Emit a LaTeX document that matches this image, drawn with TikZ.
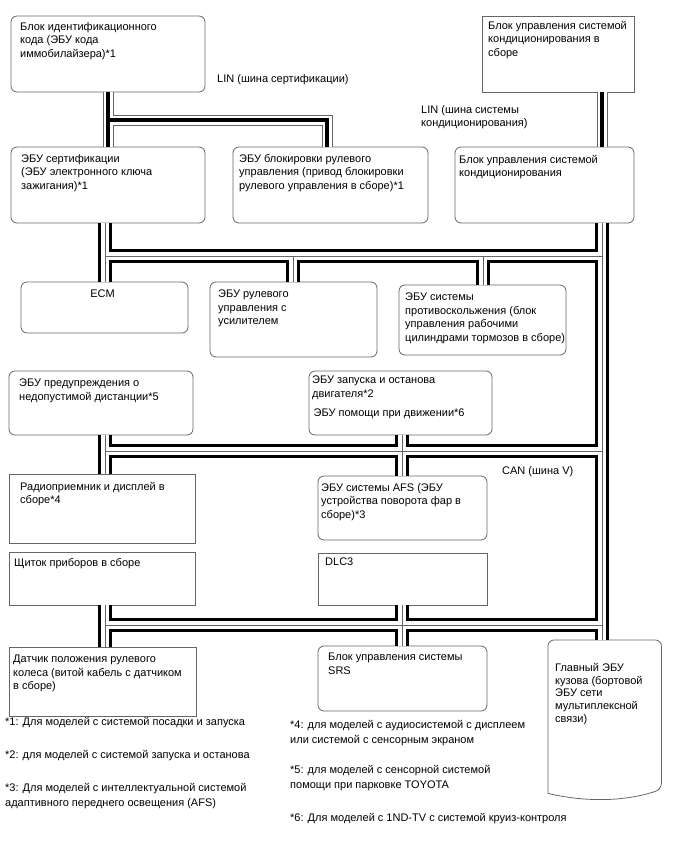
\documentclass[tikz,border=0pt]{standalone}
\usepackage{fontspec}
\setmainfont{Liberation Sans}
\tikzset{
  ecu/.style={draw=black!60, line width=0.8, fill=white, rounded corners=6, anchor=north west, inner sep=0, outer sep=0},
  ecusq/.style={ecu, sharp corners},
  txt/.style={anchor=north west, align=left, inner sep=0},
  canout/.style={line width=14, draw=black},
  canin/.style={line width=8, draw=white},
  cancore/.style={line width=0.8, draw=black!60},
  linout/.style={line width=11, draw=black!60},
  linin/.style={line width=9, draw=white},
  lincore/.style={line width=4, draw=black},
}
\begin{document}
\begin{tikzpicture}[x=1pt, y=-1pt, every node/.style={font=\fontsize{11}{13.5}\selectfont}]
    \useasboundingbox (0,0) rectangle (688,852);

    % Boxes
    \node[ecu, minimum width=194, minimum height=76] (immob) at (11,16) {};
    \node[ecusq, minimum width=152, minimum height=76] (acassy) at (482,16) {};
    \node[ecu, minimum width=194, minimum height=76] (cert) at (11,147) {};
    \node[ecu, minimum width=195, minimum height=76] (steerlock) at (233,147) {};
    \node[ecu, minimum width=179, minimum height=76] (acctrl) at (455,147) {};
    \node[ecu, minimum width=167, minimum height=51] (ecm) at (21,282) {};
    \node[ecu, minimum width=167, minimum height=75] (eps) at (210,282) {};
    \node[ecu, minimum width=167, minimum height=70] (skid) at (399,285) {};
    \node[ecu, minimum width=184, minimum height=64] (distwarn) at (9,371) {};
    \node[ecu, minimum width=183, minimum height=64] (engine) at (309,371) {};
    \node[ecusq, minimum width=186, minimum height=69] (radio) at (9,474) {};
    \node[ecu, minimum width=169, minimum height=64] (afs) at (318,476) {};
    \node[ecusq, minimum width=186, minimum height=53] (meter) at (9,552) {};
    \node[ecusq, minimum width=169, minimum height=52] (dlc3) at (318,553) {};
    \node[ecusq, minimum width=187, minimum height=69] (steersens) at (9,647) {};
    \node[ecu, minimum width=169, minimum height=65] (srs) at (318,646) {};
    \node[anchor=north west, inner sep=0, minimum width=113, minimum height=160] (bodyecu) at (548,640) {};
    \draw[black!60, line width=0.8, rounded corners=6] ([yshift=7]bodyecu.south west) -- (bodyecu.north west)
        -- (bodyecu.north east) -- ([yshift=11]bodyecu.south east)
        .. controls (620,803) and (580,801) .. ([yshift=7]bodyecu.south west);

    % Texts in the boxes
    \node[txt] (immob-t) at ([shift={(9,6)}]immob.north west) {Блок идентификационного\\кода (ЭБУ кода\\иммобилайзера)*1};
    \node[txt] (acassy-t) at ([shift={(6,5)}]acassy.north west) {Блок управления системой\\кондиционирования в\\сборе};
    \node[txt] (cert-t) at ([shift={(10,7)}]cert.north west) {ЭБУ сертификации\\(ЭБУ электронного ключа\\зажигания)*1};
    \node[txt] (steerlock-t) at ([shift={(6,7)}]steerlock.north west) {ЭБУ блокировки рулевого\\управления (привод блокировки\\рулевого управления в сборе)*1};
    \node[txt] (acctrl-t) at ([shift={(4,8)}]acctrl.north west) {Блок управления системой\\кондиционирования};
    \node[anchor=north, inner sep=0] (ecm-t) at ([shift={(-2,8)}]ecm.north) {ECM};
    \node[txt] (eps-t) at ([shift={(8,8)}]eps.north west) {ЭБУ рулевого\\управления с\\усилителем};
    \node[txt] (skid-t) at ([shift={(6,8)}]skid.north west) {ЭБУ системы\\противоскольжения (блок\\управления рабочими\\цилиндрами тормозов в сборе)};
    \node[txt] (distwarn-t) at ([shift={(10,8)}]distwarn.north west) {ЭБУ предупреждения о\\недопустимой дистанции*5};
    \node[txt] (engine-t) at ([shift={(3,5)}]engine.north west) {ЭБУ запуска и останова\\двигателя*2\\[5.5pt]\hspace*{1.5pt}ЭБУ помощи при движении*6};
    \node[txt] (radio-t) at ([shift={(11,8)}]radio.north west) {Радиоприемник и дисплей в\\сборе*4};
    \node[txt] (afs-t) at ([shift={(3,7)}]afs.north west) {ЭБУ системы AFS (ЭБУ\\устройства поворота фар в\\сборе)*3};
    \node[txt] (meter-t) at ([shift={(5,6)}]meter.north west) {Щиток приборов в сборе};
    \node[txt] (dlc3-t) at ([shift={(7,5)}]dlc3.north west) {DLC3};
    \node[txt] (steersens-t) at ([shift={(4,8)}]steersens.north west) {Датчик положения рулевого\\колеса (витой кабель с датчиком\\в сборе)};
    \node[txt] (srs-t) at ([shift={(10,7)}]srs.north west) {Блок управления системы\\SRS};
    \node[txt, font=\fontsize{11}{12.8}\selectfont] (bodyecu-t) at ([shift={(7,23)}]bodyecu.north west) {Главный ЭБУ\\кузова (бортовой\\ЭБУ сети\\мультиплексной\\связи)};

    % Bus labels
    \node[txt] (lincert-l) at (217,74) {LIN (шина сертификации)};
    \node[txt] (linac-l) at (421,105) {LIN (шина системы\\кондиционирования)};
    \node[txt] (can-l) at (502,466) {CAN (шина V)};

    % Junctions
    \coordinate (lj) at (327,120);
    \coordinate (lt1) at (105,256);
    \coordinate (tr1) at (602,256);
    \coordinate (epsj) at (293,256);
    \coordinate (skidj) at (483,256);
    \coordinate (lt2) at (105,451);
    \coordinate (md2) at (402,451);
    \coordinate (tr2) at (602,451);
    \coordinate (lt3) at (105,625);
    \coordinate (md3) at (402,625);
    \coordinate (tr3) at (602,625);

    % LIN buses
    \def\linpath{(immob.south) -- (cert.north) (immob.south |- lj) -- (lj) -- (lj |- steerlock.north)
        (acassy.south -| tr1) -- (acctrl.north -| tr1)}
    \foreach \layer in {linout,linin,lincore}
        \draw[\layer, line join=miter] \linpath;

    % CAN bus
    \def\canpath{(cert.south -| lt1) -- (ecm.north -| lt1) (lt1) -- (tr1)
        (epsj) -- (epsj |- eps.north) (skidj) -- (skidj |- skid.north)
        (acctrl.south -| tr1) -- (bodyecu.north -| tr1)
        (distwarn.south -| lt2) -- (radio.north -| lt2) (lt2) -- (tr2)
        (engine.south -| md2) -- (afs.north -| md2)
        (meter.south -| lt3) -- (steersens.north -| lt3) (lt3) -- (tr3)
        (dlc3.south -| md3) -- (srs.north -| md3)}
    \foreach \layer in {canout,canin,cancore}
        \draw[\layer, line join=miter] \canpath;

    % Footnotes
    \node[txt] (fn1) at (5,717) {*1: Для моделей с системой посадки и запуска};
    \node[txt] (fn2) at (5,750) {*2: для моделей с системой запуска и останова};
    \node[txt, font=\fontsize{11}{15}\selectfont] (fn3) at (5,783) {*3: Для моделей с интеллектуальной системой\\адаптивного переднего освещения (AFS)};
    \node[txt, font=\fontsize{11}{15}\selectfont] (fn4) at (290,720) {*4: для моделей с аудиосистемой с дисплеем\\или системой с сенсорным экраном};
    \node[txt, font=\fontsize{11}{15}\selectfont] (fn5) at (290,765) {*5: для моделей с сенсорной системой\\помощи при парковке TOYOTA};
    \node[txt] (fn6) at (290,813) {*6: Для моделей с 1ND-TV с системой круиз-контроля};

\end{tikzpicture}
\end{document}
